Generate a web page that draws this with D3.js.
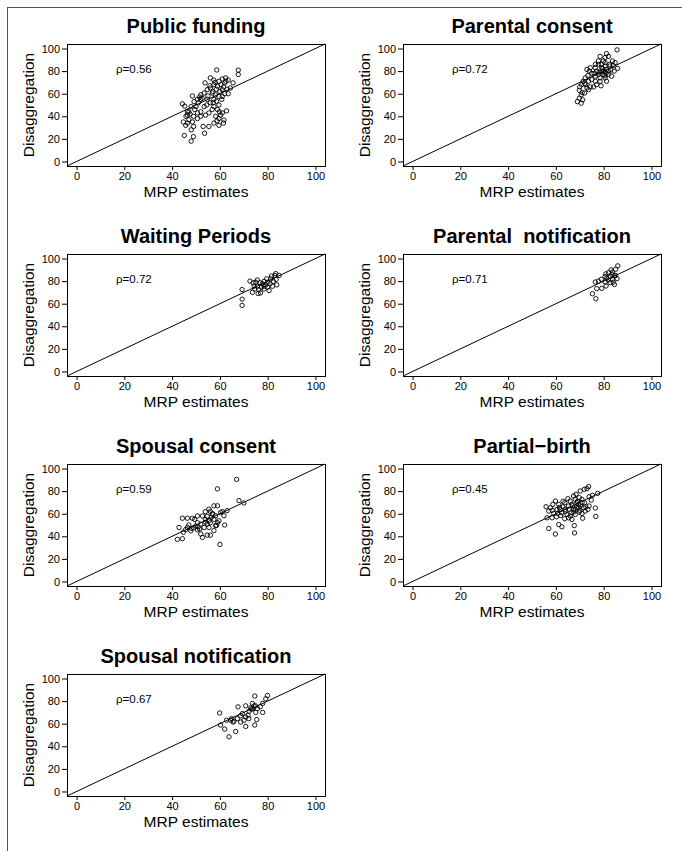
<!DOCTYPE html>
<html>
<head>
<meta charset="utf-8">
<script src="https://cdn.jsdelivr.net/npm/d3@7"></script>
<style>
  html, body { margin: 0; padding: 0; background: #fff; }
  svg { display: block; font-family: "Liberation Sans", Arial, Helvetica, sans-serif; }
</style>
</head>
<body>
<svg id="chart" width="682" height="851"></svg>
<script>
// Panel titles and correlation labels, in drawing order (row by row)
const titles = ["Public funding", "Parental consent", "Waiting Periods",
  "Parental  notification", "Spousal consent", "Partial\u2212birth", "Spousal notification"];
const rhoLabels = ["\u03c1=0.56", "\u03c1=0.72", "\u03c1=0.72", "\u03c1=0.71",
  "\u03c1=0.59", "\u03c1=0.45", "\u03c1=0.67"];
const tickValues = [0, 20, 40, 60, 80, 100];

// [MRP estimate, disaggregation estimate] pairs for each policy
const publicFunding = [
  [67.7,80.9],[67.7,77],[58.7,81],[65.5,69.6],[64.4,65],[63.5,60],[62.8,44.8],[53.8,69.6],
  [44.3,51],[45.3,49],[45.1,23],[48,18],[48.9,22],[48,28],[49,31],[53,31],[53.6,25],
  [55.4,31],[57.5,34],[59.6,32],[61.5,34],[60.3,41],[59,46],[57.5,55],[56,52],[54.7,55],
  [52.6,56],[50.6,55],[48.5,58],[49.2,53],[46.4,44],[45.8,40],[47,37],[49,40],[50.6,38],
  [52,40],[45.7,32],[46.4,34],[52,44],[54,41],[55.4,43],[58.2,40],[59.6,38],[61,43],
  [59,66.6],[61,63.6],[62,69.6],[62.4,74],[61,73],[59.6,71],[57.5,68],[56,65],[54.7,63.6],
  [53.4,60.6],[52,59],[56.8,60.6],[58.2,59],[56,74],[57.5,72],[59.6,57.6],[61,57.6],
  [63,64],[52,55],[50,48.6],[48,48.6],[46.4,41],[44.7,35],[50.6,43],[53.4,48.6],[57.5,48.6],
  [59.6,50],[58.6,53.4],[56.8,46],[58.8,36],[61.7,36.7],[60,62],[61.5,66],[58.5,64],
  [60.5,68],[62.5,71],[57,62],[55,58],[51,52],[49.5,46],[47.5,42],[62,60],[60.8,55],
  [55.8,67],[58,70],[63.5,72],[48.5,35],[47,44],[51.5,57],[54.5,50],[57.2,52],[59.8,44]
];
const parentalConsent = [
  [85.6,98.8],[81.2,95.5],[82,93],[78.5,93],[83.7,89],[84.8,87.5],[85.8,82.4],[84.4,80],
  [80.6,84.5],[79.2,80],[77.8,77],[76.5,75.5],[75,72.5],[73.7,71],[73,81.5],[74.4,83],
  [76.5,83],[77.8,86],[79.9,89],[82,77],[83.3,75.5],[80.6,74],[78.5,71],[77,68],[78.9,67],
  [75.8,66],[73.7,63.6],[72,60.6],[69.8,63],[70.6,59],[69.8,56],[69,53],[70.6,51.6],
  [71.2,54.6],[70,66],[71.4,71],[72.5,68],[70.8,68],[72.3,74],[73.4,76],[75,78],[77,80],
  [81.2,81.5],[82.6,84.5],[84,85],[79.9,77],[81.2,71],[79.2,83],[77.8,89],[80.6,92],
  [82,80],[80.6,87.5],[78.5,74],[76.5,71],[74.4,66],[73,65],[76.5,86],[74,80],[83,81],
  [79,86],[80,80],[81,78],[79.5,82],[78,79],[80.5,76],[82.5,86],[76,78],[72,69],[71,61]
];
const waitingPeriods = [
  [69.3,72.5],[69.3,64],[69.3,58.5],[72.6,80],[73.9,78.5],[75.7,81],[76.8,78.5],[78.5,79.7],
  [79.6,82],[81.3,82],[83,85],[83.4,86.6],[84.8,85],[82.4,79.7],[83.8,76.7],[82,75.5],
  [79.9,74.6],[80.6,71.6],[78.5,73],[77,69.5],[76,69],[74.6,73],[73.6,70],[74.3,75.5],
  [75.7,75.5],[77.4,74.6],[77.8,77.6],[79.2,76.7],[81,77.6],[81.6,84.5],[83.5,81.5],
  [76.3,72.5],[75,79],[78.5,75.5],[80,79]
];
const parentalNotification = [
  [85.9,93.5],[85,90.5],[83.1,89.9],[82,87.5],[80.9,86.4],[83.4,86],[84.5,84.6],[85.6,82.2],
  [83.7,81.6],[82,81],[80.6,79.2],[82.7,78.6],[84.5,77],[79,81.6],[77.8,80],[76.5,79.2],
  [81,75.7],[79.2,73.6],[77.1,73.3],[75.3,68.8],[76.7,64.4],[85,85],[83.7,88],[81.3,82.5],
  [82.8,84],[80.6,84],[84,79]
];
const spousalConsent = [
  [67,90.4],[59,82],[68,71.6],[70,69.5],[63,62.7],[61.7,58.2],[62,50],[60,32.8],[42.2,37.3],
  [44.3,37.9],[42.9,47.8],[44.3,56],[46.4,56],[48.5,56],[49.4,55],[50.6,52],[47,50],[49,47.5],
  [45.7,46],[44.7,43.6],[47.8,44.8],[50.6,45.7],[52,42],[52.7,39],[54.7,41],[56,41],[57.5,45],
  [58.2,49.5],[56,52],[53.9,55],[52.7,58],[53.9,61.8],[55.4,64],[57.5,67],[59,67],[56.8,59.7],
  [58.2,58.2],[54.7,50.7],[52,50.7],[53.4,47.8],[55.4,47.8],[57.5,55],[59.6,53.7],[60.3,61],
  [61,61.8],[59,52],[49.9,49],[50.9,48.4],[46.4,47.8],[56.4,56.7],[54.7,57.6],[50.6,58],
  [58.6,49.6],[55.5,54],[57,60],[56,62],[54,52.5],[51.5,46.5],[48,47]
];
const partialBirth = [
  [73.7,84],[73,82.2],[71.9,81.6],[70.2,80.1],[77.5,78],[75.3,76.3],[73.9,75],[76.5,65],
  [74.8,72],[76.7,57.6],[71.2,56],[67.7,49.5],[67.8,43],[59.8,42],[57,46.9],[62.5,48.4],
  [61.2,50.4],[55.9,66.2],[57,62.3],[56.3,56.4],[58.4,56.4],[59.8,71.2],[58.7,68.2],
  [61.2,68.2],[61.8,63.8],[60.8,60.2],[62.5,60.8],[63.9,63.8],[65.3,66.8],[66,71.2],
  [67.4,75.7],[68.1,72.7],[69.8,74.2],[70.9,72.7],[72,69.7],[70.2,66.8],[68.8,65.3],
  [67.4,63.8],[66.4,60.8],[68.1,59.3],[69.8,61.4],[72.3,62.3],[73.4,63.8],[71.6,65.3],
  [65.3,56.4],[66.7,54.9],[63.7,55.5],[64.7,59.3],[62.9,66.2],[63.7,69.7],[65,73.3],
  [66.7,68.2],[68.8,69.7],[69.5,68.2],[70.9,60.2],[73.9,66.8],[57.8,65.3],[60.5,63.8],
  [59.1,60.2],[62,58.4],[60.2,57.3],[68.4,77.2],[69.5,65.3],[68.1,63.8],[67,67],[65.5,64],
  [71,70],[64,62],[66,58],[69,71],[72.5,66],[70,63],[63,71],[61.5,65.5],[58.5,63],[67.5,61.5]
];
const spousalNotification = [
  [79.9,85],[79.2,82],[74.6,84.5],[77.9,78],[76.9,75],[75.7,73.4],[74.3,75.8],[73.6,77.9],
  [72.9,74],[72.2,71],[70.8,75.8],[67.6,74.9],[69.4,69],[70.8,66],[71.8,67.5],[75,70],
  [77.9,70],[75.4,63.6],[74.6,58.8],[70.8,57.6],[66.6,53.1],[63.8,48.4],[62,55.2],[60.3,58.8],
  [59.9,69.5],[62.8,63.1],[64.5,63.1],[65.9,62.2],[67.3,64.5],[68.7,67],[70.1,63.1],
  [72.1,64.5],[68.7,61.5],[64.9,64.5],[73.2,72.8],[74.9,75.8],[73.8,73.5],[65.5,61.5]
];
const seriesList = [publicFunding, parentalConsent, waitingPeriods, parentalNotification,
  spousalConsent, partialBirth, spousalNotification];

const svg = d3.select("#chart");

// Outer frame of the figure
svg.append("rect")
  .attr("x", 7.5).attr("y", 7.5)
  .attr("width", 700).attr("height", 900)
  .attr("fill", "none").attr("stroke", "#555").attr("stroke-width", 1);

const boxW = 258, boxH = 122;
const colLeft = [67, 403];
const rowTop = r => 44 + 210 * r;
const domain = [-4, 104];

seriesList.forEach((pts, i) => {
  const left = colLeft[i % 2];
  const top = rowTop(Math.floor(i / 2));
  const x = d3.scaleLinear().domain(domain).range([left, left + boxW]);
  const y = d3.scaleLinear().domain(domain).range([top + boxH, top]);
  const g = svg.append("g");

  // axes with ticks outside the box
  const xAxis = g.append("g").attr("transform", `translate(0,${top + boxH})`)
    .call(d3.axisBottom(x).tickValues(tickValues).tickSize(4).tickPadding(2));
  const yAxis = g.append("g").attr("transform", `translate(${left},0)`)
    .call(d3.axisLeft(y).tickValues(tickValues).tickSize(5).tickPadding(2));
  [xAxis, yAxis].forEach(a => {
    a.select(".domain").remove();
    a.selectAll("line").attr("stroke", "#000");
    a.selectAll("text").attr("fill", "#000")
      .style("font-size", "11px")
      .style("font-family", '"Liberation Sans", Arial, sans-serif');
  });

  // plot box
  g.append("rect")
    .attr("x", left + 0.5).attr("y", top + 0.5)
    .attr("width", boxW).attr("height", boxH)
    .attr("fill", "none").attr("stroke", "#000").attr("stroke-width", 1);

  // 45-degree reference line across the plotting region
  g.append("line")
    .attr("x1", x(domain[0])).attr("y1", y(domain[0]))
    .attr("x2", x(domain[1])).attr("y2", y(domain[1]))
    .attr("stroke", "#000").attr("stroke-width", 1);

  // points
  g.append("g").selectAll("circle").data(pts).join("circle")
    .attr("cx", d => x(d[0])).attr("cy", d => y(d[1]))
    .attr("r", 2.2)
    .attr("fill", "none").attr("stroke", "#000").attr("stroke-width", 0.9);

  // correlation label
  g.append("text")
    .attr("x", x(24)).attr("y", y(82))
    .attr("text-anchor", "middle").attr("dominant-baseline", "central")
    .style("font-size", "11.5px")
    .text(rhoLabels[i]);

  // panel title (spacing kept as written)
  g.append("text")
    .attr("x", left + boxW / 2).attr("y", top - 11)
    .attr("text-anchor", "middle")
    .style("font-size", "20px").style("font-weight", "bold")
    .style("white-space", "pre")
    .text(titles[i]);

  // axis titles
  g.append("text")
    .attr("x", left + boxW / 2).attr("y", top + boxH + 31)
    .attr("text-anchor", "middle")
    .style("font-size", "15.5px")
    .text("MRP estimates");
  g.append("text")
    .attr("transform", `translate(${left - 33},${top + boxH / 2}) rotate(-90)`)
    .attr("text-anchor", "middle")
    .style("font-size", "15.5px")
    .text("Disaggregation");
});
</script>
</body>
</html>
